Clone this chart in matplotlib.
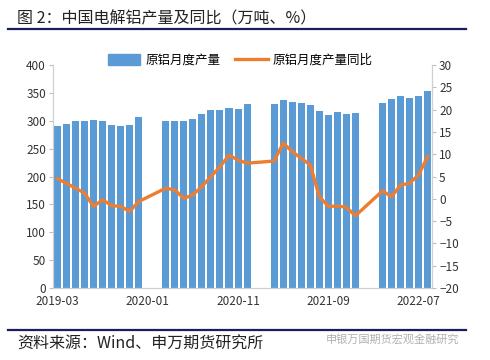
import numpy as np
import matplotlib.pyplot as plt
from matplotlib.lines import Line2D
from matplotlib.patches import Patch

plt.rcParams['font.family'] = ['Noto Sans CJK SC', 'DejaVu Sans']

# months 2019-03 .. 2022-08; Jan/Feb not reported (NaN)
months = [f"{y}-{m:02d}" for y in range(2019, 2023) for m in range(1, 13)]
months = months[2:months.index("2022-08") + 1]

output = [290.7, 293.7, 299.7, 299.7, 301.5, 299.7, 292.5, 290.7, 292.5, 307.5,
          np.nan, np.nan,
          299.7, 299.7, 299.7, 303.9, 312.2, 319.4, 319.4, 323.6, 321.2, 329.5,
          np.nan, np.nan,
          329.5, 337.3, 333.1, 331.3, 328.4, 317.6, 309.9, 315.2, 311.6, 313.4,
          np.nan, np.nan,
          331.3, 339.1, 344.5, 341.5, 344.5, 353.4]
yoy = [4.5, 3.5, 2.4, 1.3, -1.7, -0.2, -1.5, -1.7, -2.8, -0.6,
       np.nan, np.nan,
       2.4, 2.0, 0.1, 0.9, 2.8, 5.0, 7.2, 9.8, 8.7, 8.0,
       np.nan, np.nan,
       8.5, 12.5, 10.6, 9.1, 7.6, 0.5, -1.7, -1.6, -1.9, -3.8,
       np.nan, np.nan,
       1.8, 0.5, 3.1, 3.5, 5.4, 9.5]

output = np.array(output)
yoy = np.array(yoy)
x = np.arange(len(months))

fig = plt.figure(figsize=(4.9, 3.6), dpi=100)
ax = fig.add_axes([0.108, 0.2, 0.774, 0.619])
ax2 = ax.twinx()

blue = '#5B9BD5'
orange = '#ED7D31'
ax.bar(x, output, width=0.78, color=blue, zorder=2)
ok = ~np.isnan(yoy)
ax2.plot(x[ok], yoy[ok], color=orange, linewidth=2.4, zorder=3)

ax.set_xlim(-0.5, len(months) - 0.5)
ax.set_ylim(0, 400)
ax.set_yticks(range(0, 401, 50))
ax2.set_ylim(-20, 30)
ax2.set_yticks(range(-20, 31, 5))
ax2.set_yticklabels([f"{v}" if v >= 0 else f"\u2212{-v}" for v in range(-20, 31, 5)])

tick_idx = [0, 10, 20, 30, 40]
ax.set_xticks(tick_idx)
ax.set_xticklabels([months[i] for i in tick_idx])

for a in (ax, ax2):
    a.tick_params(labelsize=8.5, colors='#333333', length=3, color='#bfbfbf')
    for s in a.spines.values():
        s.set_color('#d0d0d0')
    a.spines['top'].set_visible(False)
ax.tick_params(axis='x', length=0, pad=5)
ax.tick_params(axis='y', pad=2)
ax2.tick_params(axis='y', pad=2)

handles = [Patch(color=blue), Line2D([], [], color=orange, linewidth=2.4)]
fig.legend(handles, ['原铝月度产量', '原铝月度产量同比'], loc='center',
           bbox_to_anchor=(0.49, 0.832), ncol=2, frameon=False, fontsize=9,
           handlelength=2.6, handleheight=0.9, columnspacing=1.2, handletextpad=0.4)

fig.text(0.035, 0.948, '图 2：中国电解铝产量及同比（万吨、%）', fontsize=11.5,
         color='#222222', va='center')
fig.add_artist(Line2D([0.017, 0.95], [0.919, 0.919], color='#1a1f5c', linewidth=1.6))
fig.add_artist(Line2D([0.017, 0.95], [0.083, 0.083], color='#1a1f5c', linewidth=1.6))
fig.text(0.035, 0.045, '资料来源：Wind、申万期货研究所', fontsize=11.5,
         color='#222222', va='center')
fig.text(0.665, 0.057, '申银万国期货宏观金融研究', fontsize=8, color='#b0b0b0', va='center')

fig.savefig('out.png', dpi=100)
